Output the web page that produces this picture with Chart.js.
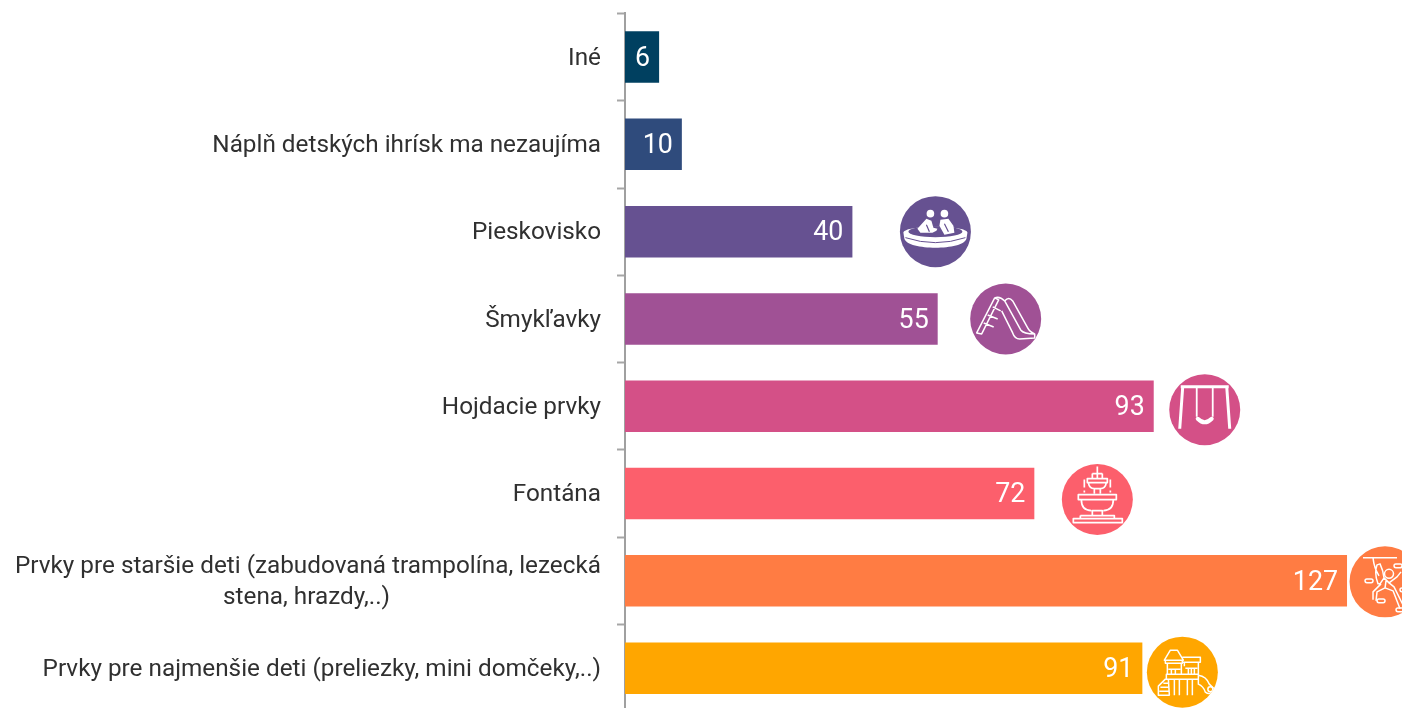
<!DOCTYPE html>
<html><head><meta charset="utf-8">
<style>html,body{margin:0;padding:0;background:#fff;overflow:hidden;height:708px}#w{width:1402px;height:708px;overflow:hidden}canvas{display:block}</style>
<script src="https://cdn.jsdelivr.net/npm/chart.js@4"></script>
</head><body><div id="w"><canvas id="c" width="1402" height="712"></canvas></div>
<script>
const categories = [
  "Iné",
  "Náplň detských ihrísk ma nezaujíma",
  "Pieskovisko",
  "Šmykľavky",
  "Hojdacie prvky",
  "Fontána",
  ["Prvky pre staršie deti (zabudovaná trampolína, lezecká", "stena, hrazdy,..)"],
  "Prvky pre najmenšie deti (preliezky, mini domčeky,..)"
];
const values = [6, 10, 40, 55, 93, 72, 127, 91];
const colors = ["#004060", "#2f4b7c", "#665191", "#a05195", "#d45087", "#fc5f6c", "#ff7c43", "#ffa600"];
const iconNames = [null, null, "sand", "slide", "swing", "fountain", "climb", "house"];
const iconDx = [0, 0, 83, 68, 51, 63, 38, 40];
const iconDy = [0, 0, 0, 0, 3.5, 6, 1, 4];

const LABEL_FONT = '24.3px Roboto';
const measure = document.createElement('canvas').getContext('2d');
measure.font = LABEL_FONT;
function centreLines(lines){
  const max = Math.max(...lines.map(l => measure.measureText(l).width));
  const sp = measure.measureText('\u00a0').width;
  return lines.map(l => l + '\u00a0'.repeat(Math.round((max - measure.measureText(l).width) / 2 / sp)));
}

const icons = {
  sand(g, col){
    g.fillStyle='#fff'; g.strokeStyle=col;
    g.beginPath(); g.moveTo(-32,1); g.bezierCurveTo(-32,-7,32,-7,32,1); g.lineTo(31,7);
    g.bezierCurveTo(28,19,-28,19,-31,7); g.closePath(); g.fill();
    g.fillStyle=col; g.beginPath(); g.ellipse(0,0,27,5.5,0,0,Math.PI*2); g.fill();
    g.lineWidth=1; g.beginPath(); g.moveTo(-30,6); g.quadraticCurveTo(0,16,30,6); g.stroke();
    g.fillStyle='#fff';
    g.beginPath(); g.arc(-5,-18,3.8,0,7); g.fill(); g.beginPath(); g.arc(9,-18,3.8,0,7); g.fill();
    g.beginPath(); g.moveTo(-9,-13); g.lineTo(-4,-11); g.lineTo(-2,-4); g.lineTo(2,-3); g.lineTo(1,-1); g.lineTo(-3,1); g.lineTo(-15,1); g.lineTo(-18,-3); g.closePath(); g.fill();
    g.beginPath(); g.moveTo(5,-12); g.lineTo(13,-13); g.lineTo(18,-6); g.lineTo(19,1); g.lineTo(9,3); g.lineTo(4,-6); g.closePath(); g.fill();
    g.lineWidth=1.2; g.strokeStyle=col;
    g.beginPath(); g.moveTo(-9,-7); g.lineTo(-6,0); g.moveTo(9,-8); g.lineTo(13,0); g.stroke();
  },
  slide(g){
    g.lineWidth=1.5;
    g.stroke(new Path2D("M-29 14 L-11 -21 L-7 -19 L-24 15 Z M-22 4 L-12 8 M-18 -4 L-8 0 M-13 -12 L-5 -8 M-11 -21 Q-6 -23 -1 -18 L15 11 Q18 15 29 15 L29 19 L14 20 Q9 20 7 14 L-4 -8 M-1 -18 Q3 -23 7 -18 L22 9 Q24 13 29 15"));
  },
  swing(g){
    g.lineWidth=3;
    g.stroke(new Path2D("M-24 -23 H24 M-22 -23 L-25 19 M22 -23 L25 19"));
    g.lineWidth=1.8;
    g.stroke(new Path2D("M-8 -23 V7 M8 -23 V7"));
    g.lineWidth=4; g.lineCap='round';
    g.stroke(new Path2D("M-7 9 Q0 16 7 9"));
  },
  fountain(g){
    g.lineWidth=1.7;
    g.stroke(new Path2D("M-24 19 H25 V23 H-24 Z M-17 16 H17 V19 M-17 16 V19 M-5 16 V11 H5 V16 M-19 -5 H19 V0 H-19 Z M-16 0 Q-16 11 -6 11 M16 0 Q16 11 6 11 M-3 -6 V-11 M3 -6 V-11 M-10 -21 H10 V-17 H-10 Z M-9 -17 Q-8 -11 -3 -11 H3 Q8 -11 9 -17 M0 -33 V-21 M-5 -26 H5 M-5 -26 V-21 M5 -26 V-21 M-13 -20 V-12 M13 -20 V-12 M-13 -9 V-7 M13 -9 V-7"));
  },
  climb(g){
    g.lineWidth=1.5;
    g.stroke(new Path2D("M-22 -24 H12 M-12 -24 Q-11 -14 -6 -6 M-5 -18 Q-2 -12 -1 -4 L-5 2 L-7 2 Q-11 -8 -8 -17 Z M-1 -4 L4 1 L12 -5 L16 -10 M1 -1 L0 6 L-8 10 L-9 19 M-4 2 L-12 10 L-12 18 M0 6 L8 9 L15 27 M4 1 L9 5 L18 23"));
    g.beginPath(); g.arc(4,-8,4.5,0,7); g.stroke();
    [[-20,-1],[9,-16],[15,8],[-8,19],[11,28]].forEach(h=>{
      g.beginPath(); g.roundRect(h[0],h[1]-1.8,8,3.6,1.8); g.stroke();
    });
  },
  house(g){
    g.lineWidth=1.5;
    g.stroke(new Path2D("M-18 -12 L-12 -22 H-5 L1 -12 Z M-17 -12 H0 V-9 H-17 Z M-15 -9 V2 M-1 -9 V2 M0 -15 H18 V-10 H0 M2 -10 V-6 M16 -10 V2 M-16 2 H16 V7 H-16 Z M-14 -3 H-2 M-11 -3 V2 M-7 -3 V2 M3 -4 H15 M6 -4 V2 M9 -4 V2 M12 -4 V2 M-8 7 V23 M-3 7 V23 M5 7 V23 M10 7 V23 M-24 23 V14 L-17 7 H-14 L-13 23 Z M-23 19 H-14 M-22 15 H-14 M-19 11 H-14 M16 3 Q24 4 27 12 L32 17 Q28 24 23 20 Q21 14 16 12 Z"));
    g.beginPath(); g.arc(28,17,2.5,0,7); g.stroke();
  }
};

const nudgeLabels = {
  id:'nudgeLabels',
  beforeDraw(chart){
    const y = chart.scales.y;
    y.getLabelItems(chart.chartArea).forEach(it => { it.options.translation[1] += 1.5; });
  }
};

const barText = {
  id:'barText',
  afterDatasetsDraw(chart){
    const g = chart.ctx, meta = chart.getDatasetMeta(0);
    g.save();
    g.font = '26.8px Roboto'; g.fillStyle='#fff'; g.textAlign='right'; g.textBaseline='middle';
    meta.data.forEach((b,i)=> g.fillText(String(values[i]), b.x-9, b.y+2));
    g.restore();
    meta.data.forEach((b,i)=>{
      if(!iconNames[i]) return;
      const cx=b.x+iconDx[i], cy=b.y+iconDy[i];
      g.save();
      g.fillStyle=colors[i]; g.beginPath(); g.arc(cx,cy,35.5,0,Math.PI*2); g.fill();
      g.beginPath(); g.arc(cx,cy,35.5,0,Math.PI*2); g.clip();
      g.translate(cx,cy); g.strokeStyle='#fff'; g.lineJoin='round';
      icons[iconNames[i]](g,colors[i]);
      g.restore();
    });
  }
};

new Chart(document.getElementById('c'),{
  type:'bar',
  data:{labels:categories,datasets:[{data:values,backgroundColor:colors,barPercentage:0.59,categoryPercentage:1}]},
  options:{
    indexAxis:'y',responsive:false,animation:false,
    layout:{padding:{top:13.4,bottom:0.2,left:0,right:0}},
    plugins:{legend:{display:false},tooltip:{enabled:false}},
    scales:{
      x:{display:false,min:0,max:136.67},
      y:{
        afterFit(s){s.width=625;s.paddingTop=0;s.paddingBottom=0;},
        border:{display:true,color:'#a0a0a0',width:2},
        grid:{display:true,drawOnChartArea:false,drawTicks:true,tickLength:8,tickWidth:2,tickColor:'#a6a6a6',offset:true},
        ticks:{color:'#303030',font:{family:'Roboto',size:24.3,lineHeight:1.28},padding:16,autoSkip:false,
          callback(v,i){const l=categories[i];return Array.isArray(l)?centreLines(l):l;}}
      }
    }
  },
  plugins:[nudgeLabels,barText]
});
</script></body></html>
